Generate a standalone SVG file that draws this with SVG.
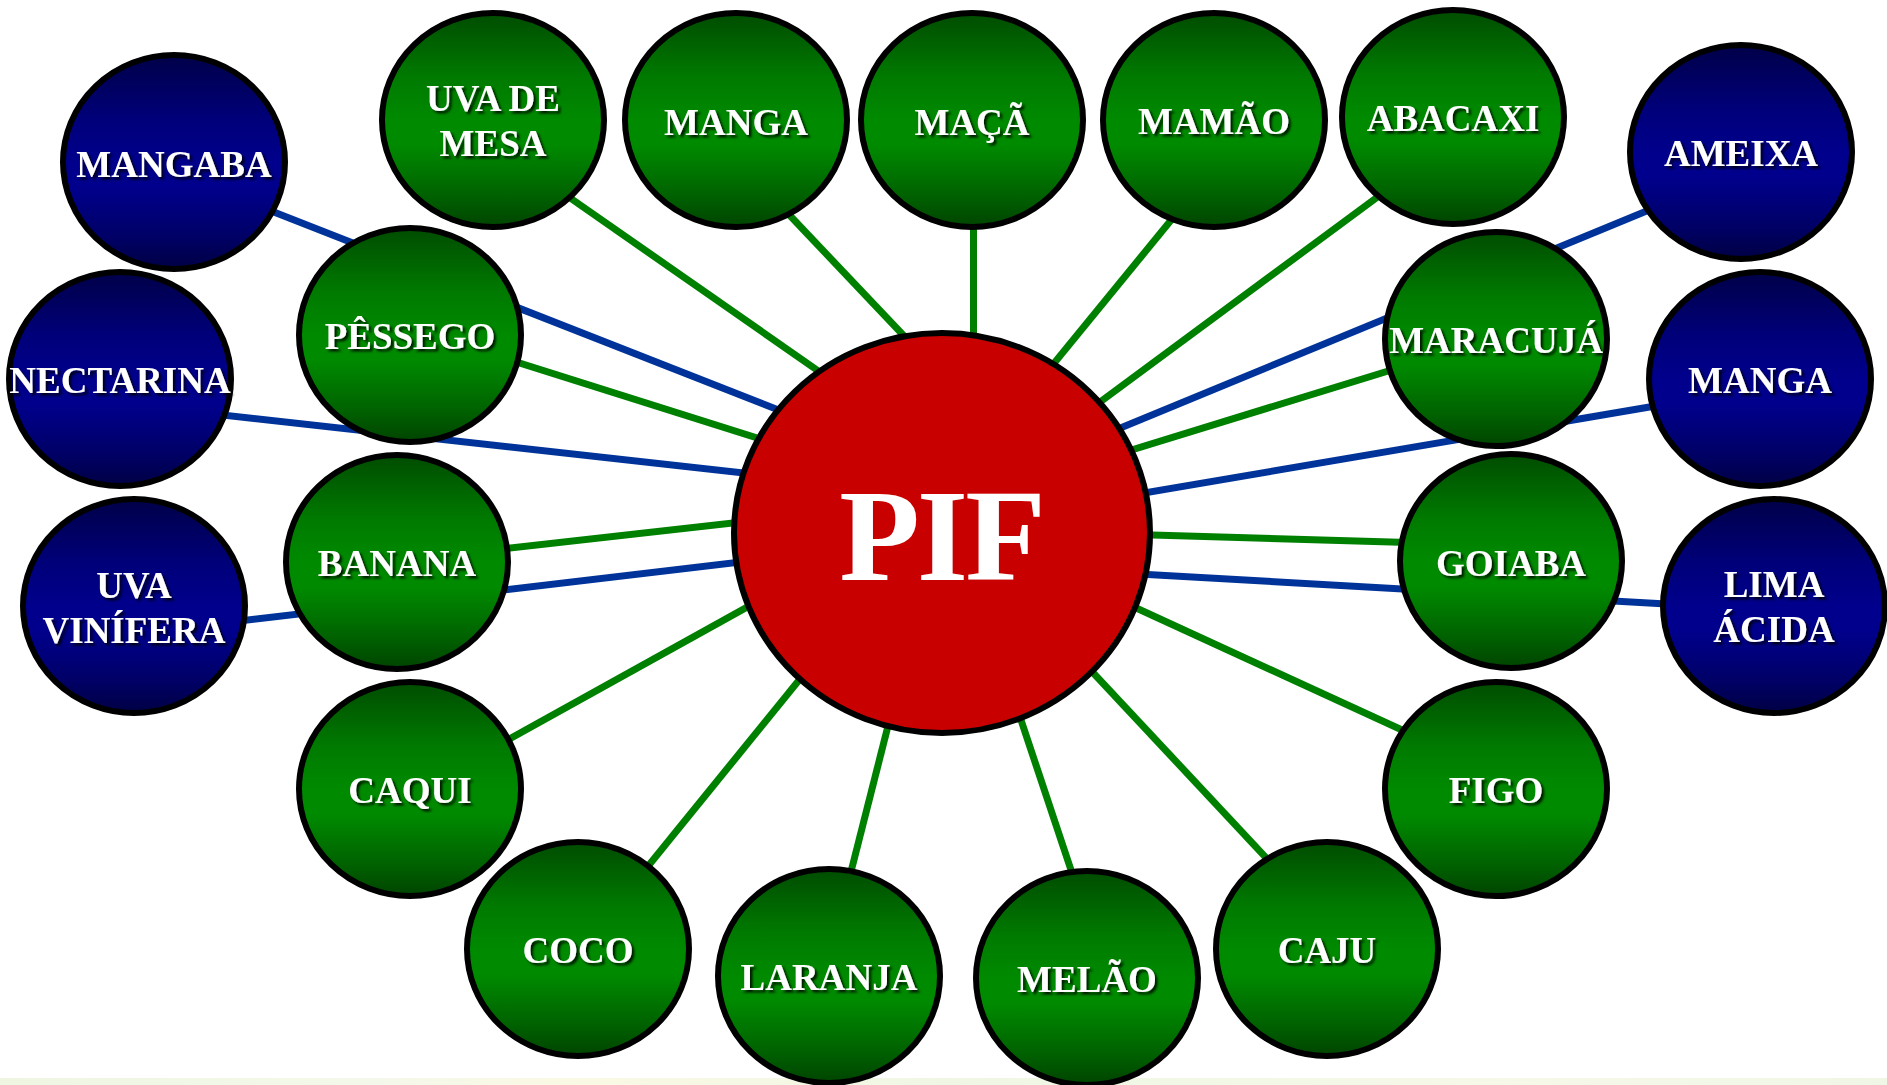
<svg xmlns="http://www.w3.org/2000/svg" width="1887" height="1085" viewBox="0 0 1887 1085">
<defs>
<linearGradient id="gG" x1="0" y1="0" x2="0" y2="1">
<stop offset="0" stop-color="#004c00"/>
<stop offset="0.3" stop-color="#007a00"/>
<stop offset="0.5" stop-color="#008a00"/>
<stop offset="0.62" stop-color="#008a00"/>
<stop offset="0.85" stop-color="#006200"/>
<stop offset="1" stop-color="#004400"/>
</linearGradient>
<linearGradient id="gB" x1="0" y1="0" x2="0" y2="1">
<stop offset="0" stop-color="#000048"/>
<stop offset="0.3" stop-color="#00007a"/>
<stop offset="0.5" stop-color="#00008c"/>
<stop offset="0.62" stop-color="#00008c"/>
<stop offset="0.85" stop-color="#000066"/>
<stop offset="1" stop-color="#000044"/>
</linearGradient>
<linearGradient id="gStrip" x1="0" y1="0" x2="1" y2="0">
<stop offset="0" stop-color="#eef6e2"/>
<stop offset="0.2" stop-color="#f4f8ea"/>
<stop offset="0.3" stop-color="#faf9e4"/>
<stop offset="0.5" stop-color="#eff7e4"/>
<stop offset="0.8" stop-color="#f6f8e8"/>
<stop offset="1" stop-color="#f0f6e6"/>
</linearGradient>
<filter id="sh" x="-10%" y="-30%" width="130%" height="170%">
<feDropShadow dx="2.5" dy="2.5" stdDeviation="1" flood-color="#000" flood-opacity="0.8"/>
</filter>
</defs>
<style>
.g{stroke:#008000;stroke-width:7;fill:none}
.b{stroke:#003399;stroke-width:7;fill:none}
.ng{fill:url(#gG);stroke:#000;stroke-width:6}
.nb{fill:url(#gB);stroke:#000;stroke-width:6}
.t{font-family:"Liberation Serif","Times New Roman",serif;font-weight:bold;font-size:37px;fill:#fff;text-anchor:middle;filter:url(#sh)}
.pif{font-family:"Liberation Serif","Times New Roman",serif;font-weight:bold;font-size:132px;fill:#fff;text-anchor:middle;letter-spacing:-3px}
</style>
<rect x="0" y="0" width="1887" height="1085" fill="#fff"/>
<rect x="0" y="1078" width="1887" height="7" fill="url(#gStrip)"/>
<g id="connectors">
<line class="g" x1="520" y1="163" x2="860" y2="400"/>
<line class="g" x1="760" y1="184" x2="960" y2="395"/>
<line class="g" x1="973.5" y1="170" x2="973.5" y2="400"/>
<line class="g" x1="1190" y1="197" x2="1010" y2="417"/>
<line class="g" x1="1410" y1="173" x2="1050" y2="439"/>
<line class="g" x1="450" y1="341" x2="830" y2="461"/>
<line class="g" x1="1450" y1="352" x2="1060" y2="472"/>
<line class="g" x1="440" y1="556" x2="830" y2="512"/>
<line class="g" x1="1460" y1="544" x2="1050" y2="532"/>
<line class="g" x1="450" y1="772" x2="830" y2="561"/>
<line class="g" x1="1450" y1="752" x2="1060" y2="573"/>
<line class="g" x1="610" y1="913" x2="860" y2="605"/>
<line class="g" x1="840" y1="915" x2="905" y2="659"/>
<line class="g" x1="1085" y1="912" x2="1000" y2="657"/>
<line class="g" x1="1300" y1="894" x2="1040" y2="616"/>
<line class="b" x1="200" y1="183" x2="860" y2="442"/>
<line class="b" x1="160" y1="408" x2="860" y2="486"/>
<line class="b" x1="180" y1="628" x2="860" y2="548"/>
<line class="b" x1="1700" y1="189" x2="1050" y2="457"/>
<line class="b" x1="1720" y1="395" x2="1050" y2="509"/>
<line class="b" x1="1720" y1="607" x2="1050" y2="569"/>
</g>
<g id="pif">
<ellipse cx="942" cy="533" rx="208" ry="200" fill="#c80000" stroke="#000" stroke-width="6"/>
<text class="pif" x="941" y="580">PIF</text>
</g>
<g id="n-mangaba"><ellipse class="nb" cx="174" cy="162" rx="111" ry="107"/><text class="t" x="174" y="177">MANGABA</text></g>
<g id="n-uvamesa"><ellipse class="ng" cx="493" cy="120" rx="111" ry="107"/><text class="t" x="493" y="111">UVA DE</text><text class="t" x="493" y="156">MESA</text></g>
<g id="n-manga1"><ellipse class="ng" cx="736" cy="120" rx="111" ry="107"/><text class="t" x="736" y="135">MANGA</text></g>
<g id="n-maca"><ellipse class="ng" cx="972" cy="120" rx="111" ry="107"/><text class="t" x="972" y="135">MAÇÃ</text></g>
<g id="n-mamao"><ellipse class="ng" cx="1214" cy="120" rx="111" ry="107"/><text class="t" x="1214" y="134">MAMÃO</text></g>
<g id="n-abacaxi"><ellipse class="ng" cx="1453" cy="117" rx="111" ry="107"/><text class="t" x="1453" y="131">ABACAXI</text></g>
<g id="n-ameixa"><ellipse class="nb" cx="1741" cy="152" rx="111" ry="107"/><text class="t" x="1741" y="166">AMEIXA</text></g>
<g id="n-pessego"><ellipse class="ng" cx="410" cy="335" rx="111" ry="107"/><text class="t" x="410" y="349">PÊSSEGO</text></g>
<g id="n-nectarina"><ellipse class="nb" cx="120" cy="379" rx="111" ry="107"/><text class="t" x="120" y="393">NECTARINA</text></g>
<g id="n-maracuja"><ellipse class="ng" cx="1496" cy="339" rx="111" ry="107"/><text class="t" x="1496" y="353">MARACUJÁ</text></g>
<g id="n-manga2"><ellipse class="nb" cx="1760" cy="379" rx="111" ry="107"/><text class="t" x="1760" y="393">MANGA</text></g>
<g id="n-banana"><ellipse class="ng" cx="397" cy="562" rx="111" ry="107"/><text class="t" x="397" y="576">BANANA</text></g>
<g id="n-uvavinifera"><ellipse class="nb" cx="134" cy="606" rx="111" ry="107"/><text class="t" x="134" y="598">UVA</text><text class="t" x="134" y="643">VINÍFERA</text></g>
<g id="n-goiaba"><ellipse class="ng" cx="1511" cy="561" rx="111" ry="107"/><text class="t" x="1511" y="576">GOIABA</text></g>
<g id="n-limaacida"><ellipse class="nb" cx="1774" cy="606" rx="111" ry="107"/><text class="t" x="1774" y="597">LIMA</text><text class="t" x="1774" y="642">ÁCIDA</text></g>
<g id="n-caqui"><ellipse class="ng" cx="410" cy="789" rx="111" ry="107"/><text class="t" x="410" y="803">CAQUI</text></g>
<g id="n-figo"><ellipse class="ng" cx="1496" cy="789" rx="111" ry="107"/><text class="t" x="1496" y="803">FIGO</text></g>
<g id="n-coco"><ellipse class="ng" cx="578" cy="949" rx="111" ry="107"/><text class="t" x="578" y="963">COCO</text></g>
<g id="n-laranja"><ellipse class="ng" cx="829" cy="976" rx="111" ry="107"/><text class="t" x="829" y="990">LARANJA</text></g>
<g id="n-melao"><ellipse class="ng" cx="1087" cy="978" rx="111" ry="107"/><text class="t" x="1087" y="992">MELÃO</text></g>
<g id="n-caju"><ellipse class="ng" cx="1327" cy="949" rx="111" ry="107"/><text class="t" x="1327" y="963">CAJU</text></g>
</svg>
